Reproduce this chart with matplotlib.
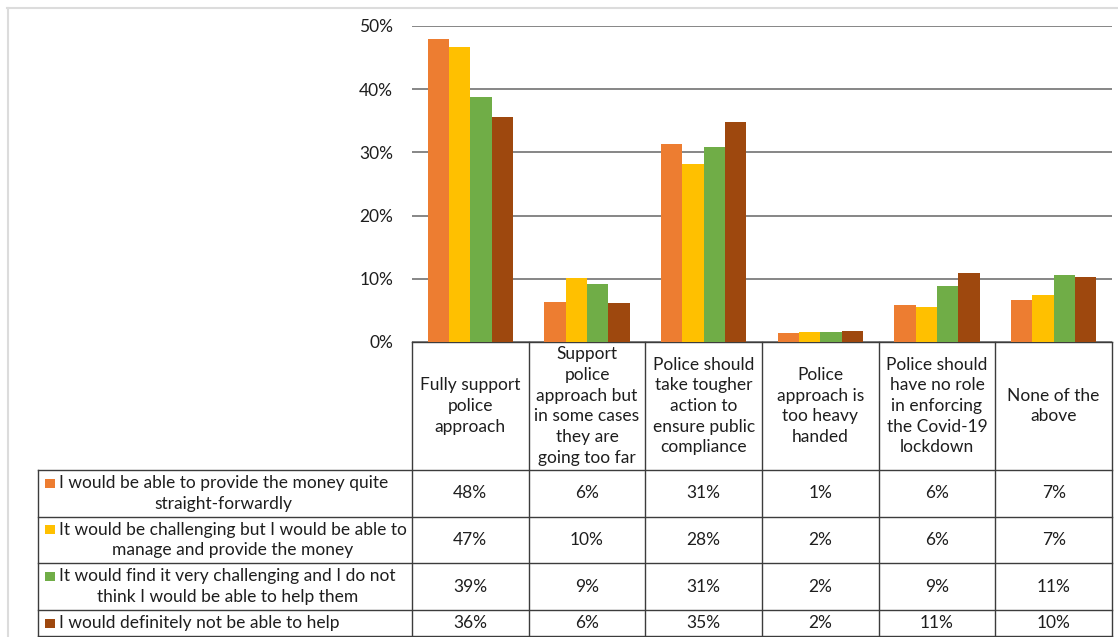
import matplotlib.pyplot as plt
import matplotlib.transforms as mtransforms
from matplotlib.lines import Line2D
from matplotlib.patches import Rectangle

plt.rcParams['font.family'] = ['Lato', 'DejaVu Sans']

categorias = [
    'Fully support\npolice\napproach',
    'Support\npolice\napproach but\nin some cases\nthey are\ngoing too far',
    'Police should\ntake tougher\naction to\nensure public\ncompliance',
    'Police\napproach is\ntoo heavy\nhanded',
    'Police should\nhave no role\nin enforcing\nthe Covid-19\nlockdown',
    'None of the\nabove',
]

series = [
    'I would be able to provide the money quite\nstraight-forwardly',
    'It would be challenging but I would be able to\nmanage and provide the money',
    'It would find it very challenging and I do not\nthink I would be able to help them',
    'I would definitely not be able to help',
]

# porcentajes por serie, una entrada por categoria
capaz = [47.9, 6.3, 31.4, 1.4, 5.9, 6.6]
dificil = [46.7, 10.2, 28.2, 1.6, 5.6, 7.4]
muy_dificil = [38.7, 9.2, 30.8, 1.6, 8.9, 10.6]
imposible = [35.6, 6.1, 34.8, 1.7, 10.9, 10.3]
valores = [capaz, dificil, muy_dificil, imposible]

colores = ['#ED7D31', '#FFC000', '#70AD47', '#9E480E']
yticks = [0, 10, 20, 30, 40, 50]

W, H = 1118, 637
TXT = '#1e1e1e'
LINEA = '#3c3c3c'
FS = 12.5
LS = 1.36


def fx(px):
    return px / W


def fy(px):
    return 1 - px / H


fig = plt.figure(figsize=(W / 100, H / 100), dpi=100)
ax = fig.add_axes([fx(412), fy(342), fx(1112) - fx(412), fy(26) - fy(342)])

ancho = 0.1825
n = len(series)
for i, (vals, col) in enumerate(zip(valores, colores)):
    xs = [k + (i - (n - 1) / 2) * ancho for k in range(len(categorias))]
    ax.bar(xs, vals, width=ancho, color=col, zorder=3)

ax.set_xlim(-0.5, len(categorias) - 0.5)
ax.set_ylim(0, 50)
ax.set_yticks(yticks)
ax.set_yticklabels([f'{t}%' for t in yticks])
ax.tick_params(axis='y', length=0, pad=13.5, labelsize=FS, labelcolor=TXT)
ax.set_xticks([])
ax.grid(axis='y', color='#666666', linewidth=1.1, zorder=0)
for s in ['left', 'right', 'top']:
    ax.spines[s].set_visible(False)
ax.spines['bottom'].set_color(LINEA)
ax.spines['bottom'].set_linewidth(1.0)

# tabla de datos debajo del grafico
mix = mtransforms.blended_transform_factory(ax.transData, fig.transFigure)
filas = [470, 517, 563, 610, 636]

for k in range(len(categorias) + 1):
    fig.add_artist(Line2D([k - 0.5, k - 0.5], [fy(342), fy(636)], transform=mix,
                          color=LINEA, lw=1.0))
for y in filas:
    fig.add_artist(Line2D([fx(38), fx(1112)], [fy(y), fy(y)], color=LINEA, lw=1.0))
fig.add_artist(Line2D([fx(38), fx(38)], [fy(470), fy(636)], color=LINEA, lw=1.0))

for k, cat in enumerate(categorias):
    fig.text(k, fy(406), cat, transform=mix, ha='center', va='center',
             fontsize=FS, color=TXT, linespacing=LS, multialignment='center')

for i, (nombre, vals, col) in enumerate(zip(series, valores, colores)):
    yc = (filas[i] + filas[i + 1]) / 2
    lineas = nombre.count('\n') + 1
    y1 = yc - (lineas - 1) * 10.5
    fig.add_artist(Rectangle((fx(45), fy(y1 + 4.5)), fx(10), 9 / H, color=col, lw=0))
    fig.text(fx(59), fy(yc), nombre, ha='left', va='center', fontsize=FS,
             color=TXT, linespacing=LS, multialignment='center')
    for k, v in enumerate(vals):
        fig.text(k, fy(yc), f'{round(v)}%', transform=mix, ha='center', va='center',
                 fontsize=FS, color=TXT)

# marco del area del grafico
fig.add_artist(Line2D([fx(7), 1], [fy(8), fy(8)], color='#dcdcdc', lw=1.5))
fig.add_artist(Line2D([fx(7.5), fx(7.5)], [fy(8), 0], color='#dcdcdc', lw=1.5))

fig.savefig('out.png', dpi=100)
